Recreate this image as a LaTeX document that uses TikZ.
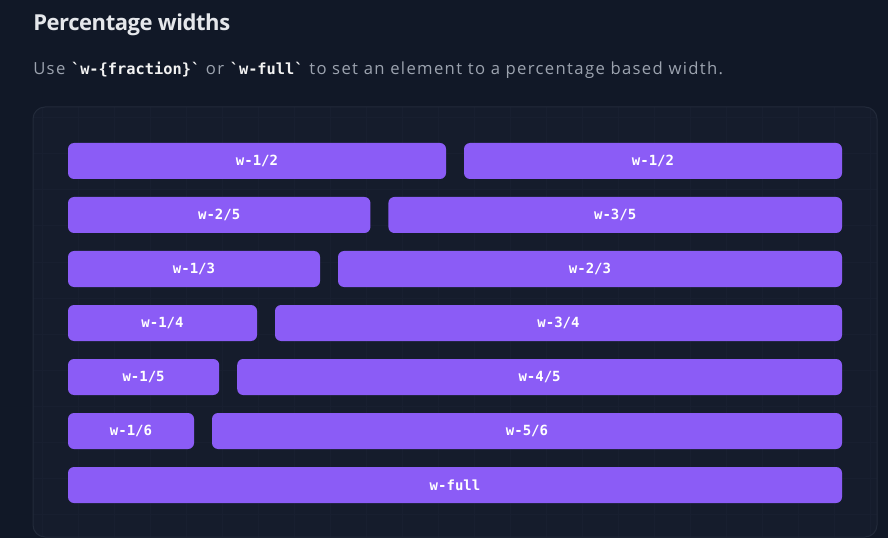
\documentclass[tikz,border=0pt]{standalone}
\usepackage{fontspec}
\setmainfont{Open Sans}
\setmonofont{DejaVu Sans Mono}
\usepackage{xcolor}
\usepackage{tikz}
\usetikzlibrary{positioning}

\definecolor{pagebg}{HTML}{111827}
\definecolor{panelbg}{HTML}{151C2C}
\definecolor{panelline}{HTML}{222A3A}
\definecolor{gridline}{HTML}{181F30}
\definecolor{barviolet}{HTML}{8B5CF6}
\definecolor{titlegray}{HTML}{E5E7EB}
\definecolor{textgray}{HTML}{9CA3AF}

\tikzset{
  bar/.style={fill=barviolet, rounded corners=4.5pt, minimum height=27pt, inner sep=0pt,
    text=white, font=\ttfamily\bfseries\fontsize{10.5pt}{12pt}\selectfont}
}
\newcommand{\code}[1]{{\color{white!95!black}\ttfamily\bfseries\fontsize{11.5pt}{13pt}\selectfont`#1`}}

\begin{document}
\begin{tikzpicture}[x=0.75pt,y=-0.75pt]
\fill[pagebg] (0,0) rectangle (888,538);
\useasboundingbox (0,0) rectangle (888,538);

% heading
\node[anchor=base west, inner sep=0pt, text=titlegray, font=\bfseries\fontsize{16.5pt}{19pt}\selectfont\addfontfeatures{LetterSpace=-2}] (title) at (33,31) {Percentage widths};
\node[anchor=base west, inner sep=0pt, text=textgray, font=\fontsize{12.5pt}{15pt}\selectfont\addfontfeatures{LetterSpace=8}] (subtitle) at (33,75)
  {Use \code{w-\{fraction\}} or \code{w-full} to set an element to a percentage based width.};

% panel with faint grid
\fill[panelbg, rounded corners=9pt] (33,107) rectangle (877,537);
\begin{scope}
  \clip[rounded corners=9pt] (33,107) rectangle (877,537);
  \foreach \gx in {42,78,...,870} \draw[gridline, line width=0.75pt] (\gx,107)--(\gx,537);
  \foreach \gy in {118,154,...,530} \draw[gridline, line width=0.75pt] (33,\gy)--(877,\gy);
\end{scope}
\draw[panelline, line width=0.75pt, rounded corners=9pt] (33,107) rectangle (877,537);

% bars
\node[bar, minimum width=378*0.75pt] (half-a) at (257,161) {w-1/2};
\node[bar, minimum width=378*0.75pt] (half-b) at (653,161) {w-1/2};
\node[bar, minimum width=302.4*0.75pt] (fifth-two) at (219.2,215) {w-2/5};
\node[bar, minimum width=453.6*0.75pt] (fifth-three) at (615.2,215) {w-3/5};
\node[bar, minimum width=252*0.75pt] (third-one) at (194,269) {w-1/3};
\node[bar, minimum width=504*0.75pt] (third-two) at (590,269) {w-2/3};
\node[bar, minimum width=189*0.75pt] (quarter-one) at (162.5,323) {w-1/4};
\node[bar, minimum width=567*0.75pt] (quarter-three) at (558.5,323) {w-3/4};
\node[bar, minimum width=151.2*0.75pt] (fifth-one) at (143.6,377) {w-1/5};
\node[bar, minimum width=604.8*0.75pt] (fifth-four) at (539.6,377) {w-4/5};
\node[bar, minimum width=126*0.75pt] (sixth-one) at (131,431) {w-1/6};
\node[bar, minimum width=630*0.75pt] (sixth-five) at (527,431) {w-5/6};
\node[bar, minimum width=774*0.75pt] (full) at (455,485) {w-full};
\end{tikzpicture}
\end{document}
